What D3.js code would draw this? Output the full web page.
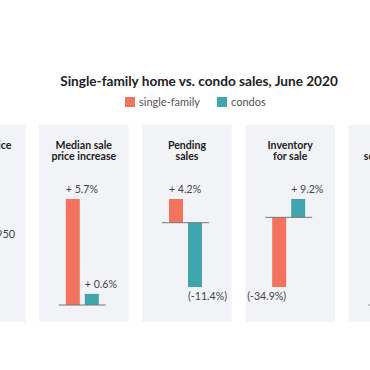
<!DOCTYPE html>
<html>
<head>
<meta charset="utf-8">
<script src="https://cdn.jsdelivr.net/npm/d3@7"></script>
<style>
  html, body { margin: 0; padding: 0; background: #fff; }
  svg { display: block; font-family: Lato, "Open Sans", sans-serif; }
</style>
</head>
<body>
<div id="chart"></div>
<script>
// chart data
const chartTitle = 'Single-family home vs. condo sales, June 2020';
const seriesNames = ['single-family', 'condos'];
const seriesColors = ['#f4735f', '#40a5ad'];

const panelIds = ['price', 'priceChange', 'pending', 'inventory', 'overList'];
const panelTitles = [
    ['Median price'],
    ['Median sale', 'price increase'],
    ['Pending', 'sales'],
    ['Inventory', 'for sale'],
    ['Homes', 'sold over list']
];
const panelText = ['$313,950', null, null, null, null];
const singleFamily = [null, 5.7, 4.2, -34.9, 27.1];
const condos = [null, 0.6, -11.4, 9.2, 16.3];

const W = 370, H = 370;
const svg = d3.select('#chart').append('svg')
    .attr('width', W)
    .attr('height', H);

// title
svg.append('text')
    .attr('x', W / 2 + 14)
    .attr('y', 86)
    .attr('text-anchor', 'middle')
    .attr('font-size', 13.6)
    .attr('font-weight', 700)
    .attr('fill', '#222')
    .text(chartTitle);

// legend
const legendX = d3.scaleOrdinal().domain(seriesNames).range([125, 217]);
const legend = svg.append('g').selectAll('g')
    .data(seriesNames)
    .enter().append('g')
    .attr('transform', d => `translate(${legendX(d)},97)`);
legend.append('rect')
    .attr('width', 10)
    .attr('height', 10)
    .attr('fill', (d, i) => seriesColors[i]);
legend.append('text')
    .attr('x', 14)
    .attr('y', 9)
    .attr('font-size', 11)
    .attr('fill', '#555')
    .text(d => d);

// panels
const px = d3.scaleBand()
    .domain(panelIds)
    .range([-64, 438])
    .paddingInner(0.135);
const panelTop = 125, panelBottom = 322;

const fmt = v => v >= 0 ? `+ ${v.toFixed(1)}%` : `(${v.toFixed(1)}%)`;

panelIds.forEach((id, i) => {
    const g = svg.append('g').attr('transform', `translate(${px(id)},0)`);
    const w = px.bandwidth();
    const cx = w / 2;

    g.append('rect')
        .attr('y', panelTop)
        .attr('width', w)
        .attr('height', panelBottom - panelTop)
        .attr('fill', '#f2f3f7');

    g.append('text')
        .attr('text-anchor', 'middle')
        .attr('font-size', 10.6)
        .attr('font-weight', 700)
        .attr('fill', '#222')
        .selectAll('tspan')
        .data(panelTitles[i])
        .enter().append('tspan')
        .attr('x', cx)
        .attr('y', (d, j) => 149 + j * 11)
        .text(d => d);

    if (panelText[i]) {
        g.append('text')
            .attr('x', w - 10)
            .attr('y', 238)
            .attr('text-anchor', 'end')
            .attr('font-size', 11)
            .attr('fill', '#444')
            .text(panelText[i]);
        return;
    }

    const vals = [singleFamily[i], condos[i]];
    const lo = Math.min(0, d3.min(vals));
    const hi = Math.max(0, d3.max(vals));
    const y = d3.scaleLinear()
        .domain([lo, hi])
        .range(lo < 0 ? [287, 199] : [305, 199]);

    const x = d3.scaleBand()
        .domain(seriesNames)
        .range([cx - 18, cx + 15])
        .paddingInner(0.263);

    const data = seriesNames.map((name, k) => ({ name, k, value: vals[k] }));

    g.selectAll('.bar')
        .data(data)
        .enter().append('rect')
        .attr('class', 'bar')
        .attr('x', d => x(d.name))
        .attr('y', d => y(Math.max(0, d.value)))
        .attr('width', x.bandwidth())
        .attr('height', d => Math.abs(y(d.value) - y(0)))
        .attr('fill', d => seriesColors[d.k]);

    // zero line
    g.append('line')
        .attr('x1', cx - 25)
        .attr('x2', cx + 22)
        .attr('y1', y(0))
        .attr('y2', y(0))
        .attr('stroke', '#777')
        .attr('stroke-width', 1);

    g.selectAll('.val')
        .data(data)
        .enter().append('text')
        .attr('class', 'val')
        .attr('font-size', 10.6)
        .attr('fill', '#444')
        .attr('text-anchor', d => (d.value < 0 && d.k === 0) ? 'end' : 'start')
        .attr('x', d => (d.value < 0 && d.k === 0) ? x(d.name) + x.bandwidth() : x(d.name))
        .attr('y', d => d.value >= 0 ? y(d.value) - 6 : y(d.value) + 13)
        .text(d => fmt(d.value));
});
</script>
</body>
</html>
